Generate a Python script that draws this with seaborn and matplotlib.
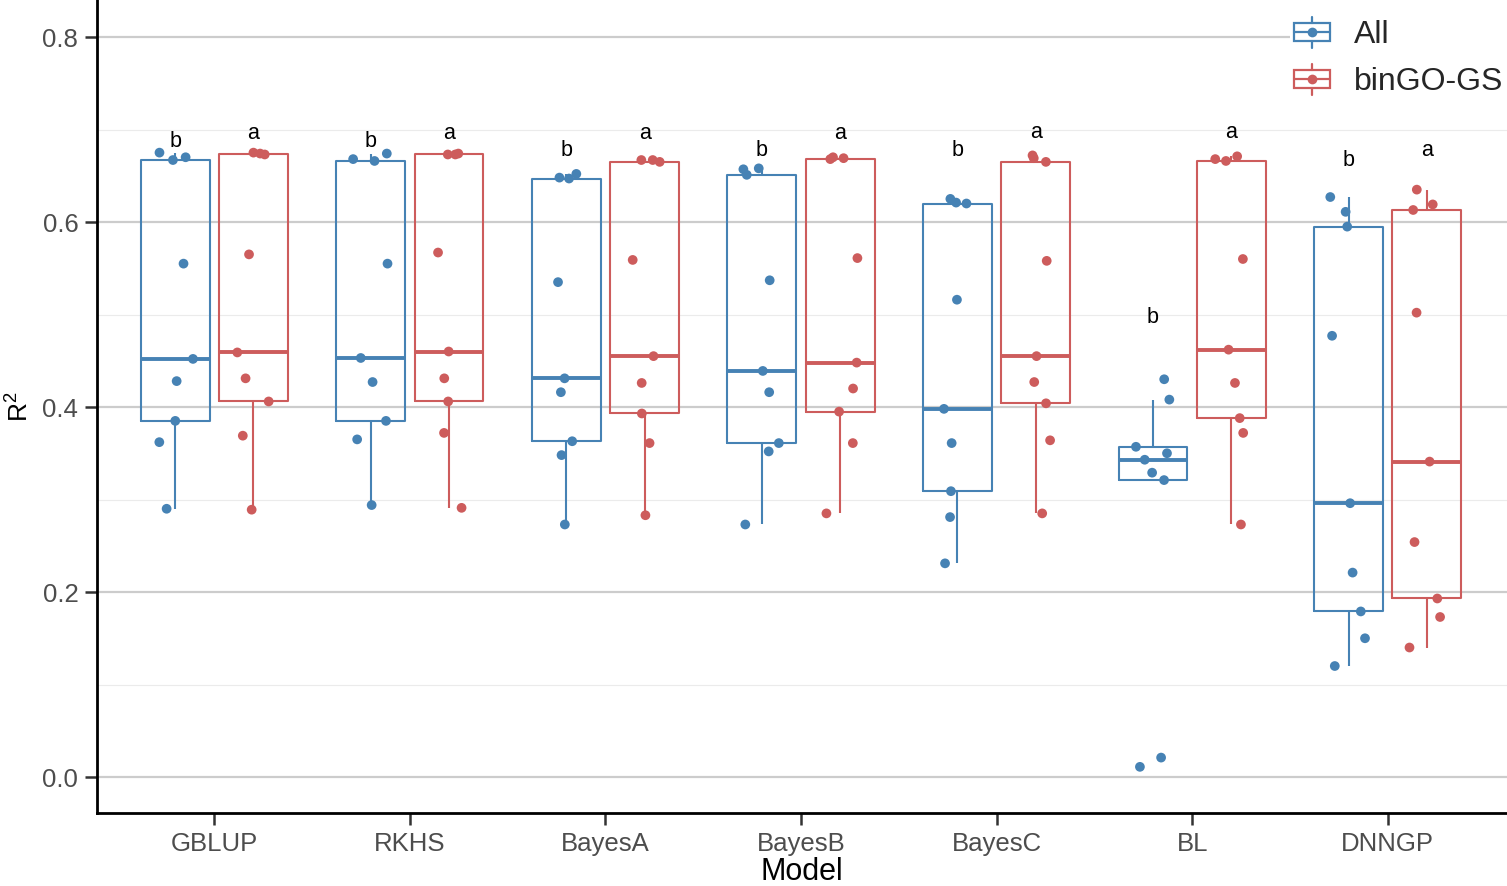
import matplotlib
matplotlib.use("Agg")
import matplotlib.pyplot as plt
import seaborn as sns
import pandas as pd
import numpy as np
from matplotlib.ticker import MultipleLocator, FormatStrFormatter
from matplotlib.legend_handler import HandlerBase
from matplotlib.patches import Rectangle
from matplotlib.lines import Line2D

# R^2 per model (9 values per box)
models = ["GBLUP", "RKHS", "BayesA", "BayesB", "BayesC", "BL", "DNNGP"]
groups = ["All", "binGO-GS"]

r2_all = [
    [0.675, 0.670, 0.667, 0.555, 0.452, 0.428, 0.385, 0.362, 0.290],
    [0.674, 0.668, 0.666, 0.555, 0.453, 0.427, 0.385, 0.365, 0.294],
    [0.652, 0.648, 0.647, 0.535, 0.431, 0.416, 0.363, 0.348, 0.273],
    [0.658, 0.657, 0.651, 0.537, 0.439, 0.416, 0.361, 0.352, 0.273],
    [0.625, 0.621, 0.620, 0.516, 0.398, 0.361, 0.309, 0.281, 0.231],
    [0.430, 0.408, 0.357, 0.350, 0.343, 0.329, 0.321, 0.021, 0.011],
    [0.627, 0.611, 0.595, 0.477, 0.296, 0.221, 0.179, 0.150, 0.120],
]
r2_bingo = [
    [0.675, 0.674, 0.673, 0.565, 0.459, 0.431, 0.406, 0.369, 0.289],
    [0.674, 0.673, 0.673, 0.567, 0.460, 0.431, 0.406, 0.372, 0.291],
    [0.667, 0.667, 0.665, 0.559, 0.455, 0.426, 0.393, 0.361, 0.283],
    [0.670, 0.669, 0.668, 0.561, 0.448, 0.420, 0.395, 0.361, 0.285],
    [0.672, 0.669, 0.665, 0.558, 0.455, 0.427, 0.404, 0.364, 0.285],
    [0.671, 0.668, 0.666, 0.560, 0.462, 0.426, 0.388, 0.372, 0.273],
    [0.635, 0.619, 0.613, 0.502, 0.341, 0.254, 0.193, 0.173, 0.140],
]

# significance letters and their heights (R^2 units)
letters_all = ["b", "b", "b", "b", "b", "b", "b"]
letters_bingo = ["a", "a", "a", "a", "a", "a", "a"]
letter_y_all = [0.681, 0.681, 0.671, 0.671, 0.671, 0.491, 0.661]
letter_y_bingo = [0.690, 0.690, 0.690, 0.690, 0.691, 0.691, 0.671]

colors = {"All": "#4682B4", "binGO-GS": "#CD5C5C"}


class BoxKeyHandler(HandlerBase):
    # small boxplot glyph for the legend keys
    def create_artists(self, legend, orig_handle, xdescent, ydescent,
                       width, height, fontsize, trans):
        c = orig_handle.get_color()
        x0, y0 = -xdescent, -ydescent
        cx, cy = x0 + width / 2, y0 + height / 2
        bh = height * 0.58
        box = Rectangle((x0, cy - bh / 2), width, bh, facecolor="white",
                        edgecolor=c, lw=1.6, transform=trans)
        w1 = Line2D([cx, cx], [y0, cy - bh / 2], color=c, lw=1.6, transform=trans)
        w2 = Line2D([cx, cx], [cy + bh / 2, y0 + height], color=c, lw=1.6, transform=trans)
        med = Line2D([x0, x0 + width], [cy, cy], color=c, lw=1.6, transform=trans)
        dot = Line2D([cx], [cy], marker="o", ms=7, color=c, mec="none",
                     lw=0, transform=trans)
        return [box, w1, w2, med, dot]


rows = []
for i, m in enumerate(models):
    for v in r2_all[i]:
        rows.append({"Model": m, "Group": "All", "R2": v})
    for v in r2_bingo[i]:
        rows.append({"Model": m, "Group": "binGO-GS", "R2": v})
df = pd.DataFrame(rows)

sns.set_theme(style="white")
plt.rcParams["font.family"] = ["Liberation Sans", "DejaVu Sans"]
plt.rcParams["mathtext.default"] = "regular"

fig = plt.figure(figsize=(15.07, 8.86), dpi=100)
ax = fig.add_axes([97 / 1507, 1 - 813 / 886, 1410 / 1507, 813 / 886])

sns.boxplot(data=df, x="Model", y="R2", hue="Group", order=models,
            hue_order=groups, palette=colors, fill=False, width=0.8, gap=0.12,
            showcaps=False, showfliers=False, linewidth=1.5,
            medianprops={"linewidth": 2.8}, legend=False, ax=ax)

np.random.seed(7)
sns.stripplot(data=df, x="Model", y="R2", hue="Group", order=models,
              hue_order=groups, palette=colors, dodge=True, jitter=0.19,
              size=7, linewidth=0, legend=False, ax=ax, zorder=4)

for i in range(len(models)):
    ax.text(i - 0.2, letter_y_all[i], letters_all[i], ha="center",
            va="baseline", fontsize=15.5, color="black")
    ax.text(i + 0.2, letter_y_bingo[i], letters_bingo[i], ha="center",
            va="baseline", fontsize=15.5, color="black")

ax.set_xlim(-0.6, 6.61)
ax.set_ylim(-0.0389, 0.84)
ax.yaxis.set_major_locator(MultipleLocator(0.2))
ax.yaxis.set_minor_locator(MultipleLocator(0.1))
ax.yaxis.set_major_formatter(FormatStrFormatter("%.1f"))
ax.grid(False)
ax.yaxis.grid(True, which="major", color="#CCCCCC", lw=1.6)
ax.yaxis.grid(True, which="minor", color="#EBEBEB", lw=0.8)
ax.set_axisbelow(True)

ax.tick_params(axis="both", which="major", length=8.5, width=1.8,
               color="#333333", labelsize=18.5, labelcolor="#4D4D4D", pad=5,
               left=True, bottom=True)
ax.tick_params(axis="y", which="minor", length=0)

for side in ["top", "right"]:
    ax.spines[side].set_visible(False)
for side in ["left", "bottom"]:
    ax.spines[side].set_color("black")
    ax.spines[side].set_linewidth(2)

ax.set_xlabel("Model", fontsize=22, color="black", labelpad=1)
ax.set_ylabel("$R^2$", fontsize=19, color="black", labelpad=6)

handles = [Line2D([], [], color=colors[g]) for g in groups]
leg = ax.legend(handles, groups, handler_map={Line2D: BoxKeyHandler()},
                loc="upper right", bbox_to_anchor=(1.0, 0.984), fontsize=23,
                frameon=True, handlelength=1.12, handleheight=1.12,
                handletextpad=0.75, labelspacing=0.42, borderpad=0.12,
                borderaxespad=0)
leg.get_frame().set_facecolor("white")
leg.get_frame().set_edgecolor("none")
leg.get_frame().set_alpha(1)

fig.savefig("out.png", dpi=100)
